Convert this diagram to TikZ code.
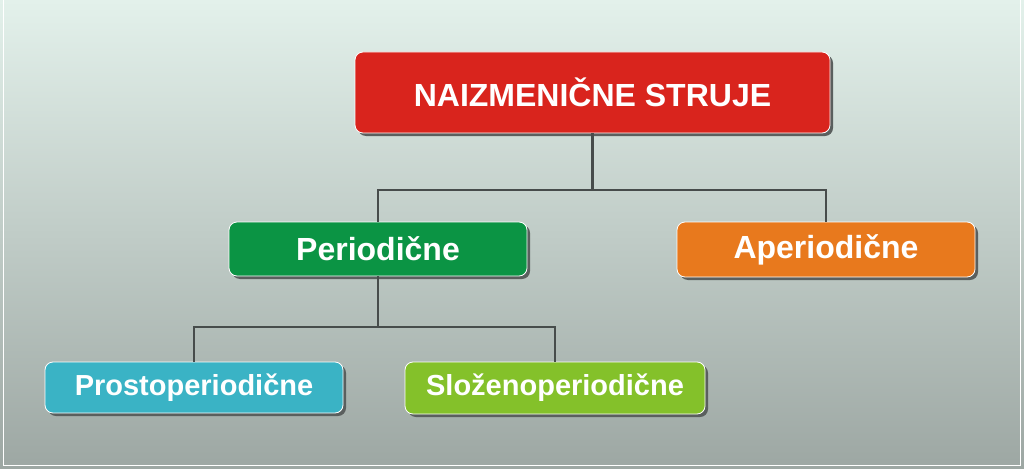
\documentclass[tikz,border=0pt]{standalone}
\usepackage{fontspec}
\setmainfont{Liberation Sans}
\usetikzlibrary{shadows}

\definecolor{bgtop}{HTML}{E3F1EB}
\definecolor{bgbot}{HTML}{9DA7A3}
\definecolor{linegray}{HTML}{474C4B}
\definecolor{shadowgray}{HTML}{5A5F5E}
\definecolor{redbox}{HTML}{D9241D}
\definecolor{greenbox}{HTML}{0B9444}
\definecolor{orangebox}{HTML}{E8791D}
\definecolor{cyanbox}{HTML}{3AB3C5}
\definecolor{limebox}{HTML}{84C12A}

\begin{document}
\begin{tikzpicture}[x = 1pt, y = -1pt, line width = 2pt,
                        box/.style = {rounded corners = 8pt, draw = white, line width = 0.8pt,
                                      inner sep = 0pt, text = white,
                                      font = \bfseries\fontsize{32}{32}\selectfont,
                                      drop shadow = {shadow xshift = 3pt, shadow yshift = -3pt,
                                                     fill = shadowgray, opacity = 1}},
                        small/.style = {font = \bfseries\fontsize{29}{29}\selectfont},
                        link/.style = {draw = linegray, line width = 2.4pt}]
      \shade [top color = bgtop, bottom color = bgbot] (0, 0) rectangle (1024, 468);
      \useasboundingbox (0, 0) rectangle (1024, 468);
      \draw [white, line width = 1pt] (3.5, -2) -- (3.5, 465) -- (1020.5, 465) -- (1020.5, -2);

      \node [box, fill = redbox, minimum width = 475pt, minimum height = 81pt] (root) at (592.5, 92.5) {NAIZMENIČNE STRUJE};
      \node [box, fill = greenbox, minimum width = 298pt, minimum height = 54pt] (per) at (378, 249) {Periodične};
      \node [box, fill = orangebox, minimum width = 298pt, minimum height = 55pt] (aper) at (826, 249.5) {Aperiodične};
      \node [box, small, fill = cyanbox, minimum width = 298pt, minimum height = 51pt] (prosto) at (194, 387.5) {Prostoperiodične};
      \node [box, small, fill = limebox, minimum width = 300pt, minimum height = 52pt] (slozeno) at (555, 388) {Složenoperiodične};

      \coordinate (j1) at (592.5, 190);
      \coordinate (j2) at (378, 327);

      \draw [link] (root.south) -- (j1);
      \draw [link] (per.north) |- (j1) -| (aper.north);
      \draw [link] (per.south) -- (j2);
      \draw [link] (prosto.north) |- (j2) -| (slozeno.north);
      \end{tikzpicture}
\end{document}
